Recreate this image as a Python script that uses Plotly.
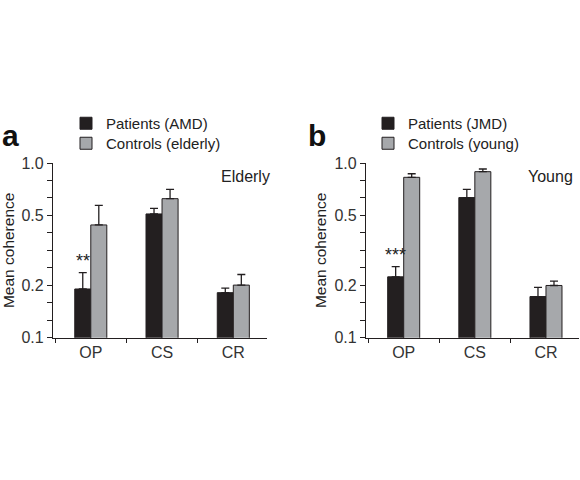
import numpy as np
import plotly.graph_objects as go

categories = ["OP", "CS", "CR"]

# panel a: elderly
amd_mean = [0.190, 0.511, 0.181]
amd_top = [0.236, 0.550, 0.192]
elderly_mean = [0.442, 0.625, 0.200]
elderly_top = [0.572, 0.706, 0.230]

# panel b: young
jmd_mean = [0.223, 0.634, 0.172]
jmd_top = [0.255, 0.706, 0.194]
young_mean = [0.828, 0.892, 0.199]
young_top = [0.868, 0.924, 0.211]

major_ticks = [0.1, 0.2, 0.5, 1.0]
tick_text = ["0.1", "0.2", "0.5", "1.0"]

DARK = "#231f20"
GREY = "#a6a8ab"
FONT = "Liberation Sans, Arial, sans-serif"


def bar(vals, tops, name, color, xa, ya, legend):
    up = [t - v for t, v in zip(tops, vals)]
    return go.Bar(
        x=categories, y=vals, name=name,
        marker=dict(color=color, line=dict(color=DARK, width=1)),
        error_y=dict(type="data", symmetric=False, array=up,
                     arrayminus=[0] * len(up), color=DARK,
                     thickness=1.3, width=4),
        xaxis=xa, yaxis=ya, legend=legend,
    )


fig = go.Figure()
fig.add_trace(bar(amd_mean, amd_top, "Patients (AMD)", DARK, "x", "y", "legend"))
fig.add_trace(bar(elderly_mean, elderly_top, "Controls (elderly)", GREY, "x", "y", "legend2"))
fig.add_trace(bar(jmd_mean, jmd_top, "Patients (JMD)", DARK, "x2", "y2", "legend3"))
fig.add_trace(bar(young_mean, young_top, "Controls (young)", GREY, "x2", "y2", "legend4"))

# evenly spaced minor ticks on the log axis, as in the original
minor = [10 ** (-1 + k / 10) for k in range(1, 10) if k not in (3, 7)]

yax = dict(
    type="log", range=[-1, 0], domain=[0.2965, 0.6604], automargin=False,
    tickvals=major_ticks, ticktext=tick_text,
    ticks="outside", ticklen=5, tickcolor=DARK, tickwidth=1,
    showline=True, linecolor=DARK, linewidth=1.2,
    showgrid=False, zeroline=False,
    minor=dict(tickvals=minor, ticks="outside", ticklen=5, tickcolor=DARK, showgrid=False),
    title=dict(text="Mean coherence", font=dict(size=15.5), standoff=4),
    tickfont=dict(size=16, color="#333"),
)
xax = dict(
    type="category", range=[-0.53, 2.47], tickson="boundaries", automargin=False,
    ticks="outside", ticklen=4, tickcolor=DARK,
    showline=True, linecolor=DARK, linewidth=1.2, showgrid=False,
    tickfont=dict(size=16, color="#333"),
)


def leg(x, y):
    return dict(x=x, y=y, xanchor="left", yanchor="top", font=dict(size=15),
                itemwidth=30, bgcolor="rgba(0,0,0,0)")


fig.update_layout(
    width=580, height=480,
    margin=dict(l=0, r=0, t=0, b=0, autoexpand=False),
    paper_bgcolor="white", plot_bgcolor="white",
    font=dict(family=FONT, color="#222", size=16),
    barmode="group", bargap=0.55, bargroupgap=0,
    xaxis=dict(xax, domain=[0.0914, 0.460], anchor="y"),
    yaxis=dict(yax, anchor="x"),
    xaxis2=dict(xax, domain=[0.631, 0.999], anchor="y2"),
    yaxis2=dict(yax, anchor="x2"),
    legend=leg(66 / 580, 1 - 107 / 480),
    legend2=leg(66 / 580, 1 - 127 / 480),
    legend3=leg(368 / 580, 1 - 107 / 480),
    legend4=leg(368 / 580, 1 - 127 / 480),
    showlegend=True,
)

fig.add_annotation(text="<b>a</b>", x=0.0, y=1 - 135 / 480, xref="paper", yref="paper",
                   xanchor="left", yanchor="middle", showarrow=False,
                   font=dict(size=30, family=FONT, color="#111"))
fig.add_annotation(text="<b>b</b>", x=306 / 580, y=1 - 135 / 480, xref="paper", yref="paper",
                   xanchor="left", yanchor="middle", showarrow=False,
                   font=dict(size=30, family=FONT, color="#111"))
fig.add_annotation(text="Elderly", x=1.023, y=0.925, xref="x domain", yref="y domain",
                   xanchor="right", yanchor="middle", showarrow=False)
fig.add_annotation(text="Young", x=0.981, y=0.925, xref="x2 domain", yref="y2 domain",
                   xanchor="right", yanchor="middle", showarrow=False)
fig.add_annotation(text="**", x="OP", y=np.log10(amd_top[0]), xref="x", yref="y",
                   xshift=-8, yshift=0, xanchor="center", yanchor="bottom", showarrow=False,
                   font=dict(size=18, color="#222"))
fig.add_annotation(text="***", x="OP", y=np.log10(jmd_top[0]), xref="x2", yref="y2",
                   xshift=-8, yshift=0, xanchor="center", yanchor="bottom", showarrow=False,
                   font=dict(size=18, color="#222"))

# the page body has an 8px default margin; drop it so the figure sits at 0,0
fig.write_html("out.html", config={"displayModeBar": False},
               post_script="document.body.style.margin='0';")
